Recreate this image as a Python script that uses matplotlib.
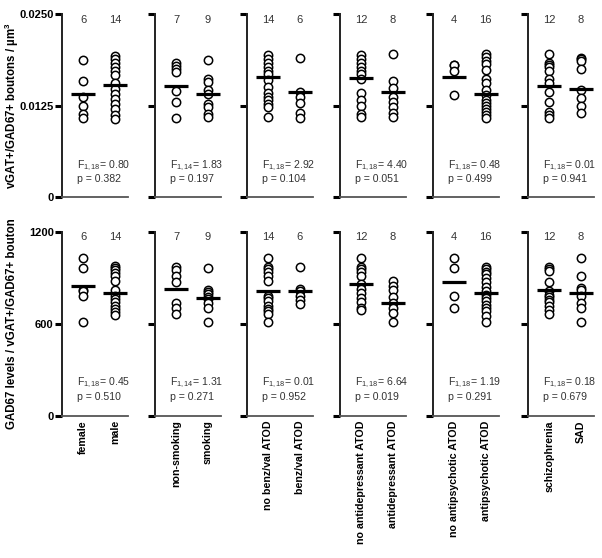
import matplotlib
matplotlib.use("Agg")  # Non-interactive backend
import matplotlib.pyplot as plt

plt.rcParams["font.family"] = ["Liberation Sans", "DejaVu Sans"]
plt.rcParams["mathtext.fontset"] = "custom"
plt.rcParams["mathtext.rm"] = "Liberation Sans"
plt.rcParams["mathtext.it"] = "Liberation Sans:italic"

# Group names per panel
categories = [
    ["female", "male"],
    ["non-smoking", "smoking"],
    ["no benz/val ATOD", "benz/val ATOD"],
    ["no antidepressant ATOD", "antidepressant ATOD"],
    ["no antipsychotic ATOD", "antipsychotic ATOD"],
    ["schizophrenia", "SAD"],
]
n_counts = [[6, 14], [7, 9], [14, 6], [12, 8], [4, 16], [12, 8]]

# Top row: vGAT+/GAD67+ bouton density (per um^3)
dens_female = [0.01872, 0.01585, 0.0137, 0.01243, 0.01134, 0.01083]
dens_male = [0.01926, 0.01881, 0.01826, 0.0178, 0.01725, 0.01667, 0.01561,
             0.01471, 0.01403, 0.01335, 0.01266, 0.01198, 0.0112, 0.01061]
dens_nonsmoking = [0.01835, 0.0179, 0.01744, 0.01712, 0.01448, 0.01302, 0.01083]
dens_smoking = [0.01872, 0.01612, 0.01567, 0.01462, 0.01403, 0.01266,
                0.01225, 0.01134, 0.01089]
dens_nobenz = [0.0194, 0.01881, 0.01826, 0.0178, 0.01725, 0.0168, 0.01598,
               0.01499, 0.01425, 0.0137, 0.01325, 0.0127, 0.01225, 0.01097]
dens_benz = [0.01895, 0.01439, 0.0137, 0.0128, 0.01143, 0.01075]
dens_noantidep = [0.0194, 0.01881, 0.01826, 0.0178, 0.01725, 0.0168, 0.01608,
                  0.01417, 0.01325, 0.01243, 0.0113, 0.01089]
dens_antidep = [0.01949, 0.01585, 0.01485, 0.0137, 0.01302, 0.01225,
                0.01152, 0.01089]
dens_noantipsy = [0.0181, 0.01803, 0.01725, 0.01393]
dens_antipsy = [0.01949, 0.01908, 0.01862, 0.01813, 0.01735, 0.01612,
                0.01561, 0.01462, 0.01393, 0.01325, 0.0128, 0.01243,
                0.01202, 0.01165, 0.0112, 0.01075]
dens_schizo = [0.01949, 0.01835, 0.01803, 0.0178, 0.01721, 0.01612, 0.01561,
               0.01439, 0.01302, 0.01165, 0.0112, 0.01075]
dens_sad = [0.01903, 0.01881, 0.01862, 0.01745, 0.01462, 0.01348, 0.01243,
            0.01143]
dens_means = [0.01403, 0.0153, 0.01516, 0.01407, 0.01644, 0.0143,
              0.01621, 0.0143, 0.01644, 0.01407, 0.0152, 0.01471]

# Bottom row: GAD67 levels per bouton
gad_female = [1029, 965, 824, 813, 785, 612]
gad_male = [979, 965, 949, 932, 910, 878, 824, 785, 763, 741, 720, 698,
            677, 659]
gad_nonsmoking = [971, 953, 910, 871, 737, 705, 668]
gad_smoking = [965, 824, 811, 798, 776, 763, 737, 705, 612]
gad_nobenz = [1029, 971, 958, 942, 915, 878, 785, 770, 748, 716, 699, 683,
              668, 612]
gad_benz = [971, 830, 813, 785, 759, 731]
gad_noantidep = [1029, 971, 958, 942, 910, 863, 828, 802, 770, 741, 705, 689]
gad_antidep = [878, 850, 824, 776, 737, 705, 673, 612]
gad_noantipsy = [1029, 965, 781, 705]
gad_antipsy = [975, 960, 942, 926, 900, 871, 841, 813, 791, 770, 748, 726,
               705, 683, 655, 612]
gad_schizo = [975, 960, 947, 871, 813, 791, 776, 759, 741, 716, 694, 668]
gad_sad = [1029, 910, 835, 824, 781, 737, 705, 612]
gad_means = [845, 802, 828, 770, 817, 817, 863, 737, 871, 802, 819, 802]

top_df = ["1,18", "1,14", "1,18", "1,18", "1,18", "1,18"]
top_F = ["0.80", "1.83", "2.92", "4.40", "0.48", "0.01"]
top_p = ["0.382", "0.197", "0.104", "0.051", "0.499", "0.941"]
bot_df = ["1,18", "1,14", "1,18", "1,18", "1,18", "1,18"]
bot_F = ["0.45", "1.31", "0.01", "6.64", "1.19", "0.18"]
bot_p = ["0.510", "0.271", "0.952", "0.019", "0.291", "0.679"]

top_ticks = [0, 0.0125, 0.025]
top_ticklabels = ["0", "0.0125", "0.0250"]
bot_ticks = [0, 600, 1200]
bot_ticklabels = ["0", "600", "1200"]

top_groups = [dens_female, dens_male, dens_nonsmoking, dens_smoking,
              dens_nobenz, dens_benz, dens_noantidep, dens_antidep,
              dens_noantipsy, dens_antipsy, dens_schizo, dens_sad]
bot_groups = [gad_female, gad_male, gad_nonsmoking, gad_smoking,
              gad_nobenz, gad_benz, gad_noantidep, gad_antidep,
              gad_noantipsy, gad_antipsy, gad_schizo, gad_sad]

W, H = 602, 558
fig = plt.figure(figsize=(W / 100, H / 100), dpi=100)

TEXT = "#333333"
PANEL_LEFT = [62, 155, 247, 340, 433, 528]  # pixel x of each left spine
rows = [
    dict(groups=top_groups, means=dens_means, df=top_df, F=top_F, p=top_p,
         ticks=top_ticks, ticklabels=top_ticklabels, ylim=(0, 0.025),
         top_px=14, bot_px=197, n_y=0.967, f_y=0.17, p_y=0.10),
    dict(groups=bot_groups, means=gad_means, df=bot_df, F=bot_F, p=bot_p,
         ticks=bot_ticks, ticklabels=bot_ticklabels, ylim=(0, 1200),
         top_px=232, bot_px=416, n_y=0.975, f_y=0.178, p_y=0.105),
]

for r, row in enumerate(rows):
    for i in range(6):
        left_px = PANEL_LEFT[i]
        ax = fig.add_axes([left_px / W, 1 - row["bot_px"] / H,
                           66 / W, (row["bot_px"] - row["top_px"]) / H])
        ax.set_xlim(0.333, 2.417)
        ax.set_ylim(*row["ylim"])
        for j in range(2):
            vals = row["groups"][2 * i + j]
            ax.plot([j + 1] * len(vals), vals, "o", ms=6, mfc="white",
                    mec="black", mew=1.1, clip_on=False, zorder=3)
            ax.hlines(row["means"][2 * i + j], j + 1 - 0.38, j + 1 + 0.38,
                      color="black", lw=2.3, zorder=4)
            ax.text(j + 1, row["n_y"], str(n_counts[i][j]),
                    transform=ax.get_xaxis_transform(), ha="center",
                    va="center", fontsize=8, color=TEXT)
        ax.text(0.22, row["f_y"],
                f"F$_{{\\mathregular{{{row['df'][i]}}}}}$= {row['F'][i]}",
                transform=ax.transAxes, ha="left", va="center",
                fontsize=7.6, color=TEXT)
        ax.text(0.22, row["p_y"], f"p = {row['p'][i]}",
                transform=ax.transAxes, ha="left", va="center",
                fontsize=7.6, color=TEXT)

        for side in ("top", "right"):
            ax.spines[side].set_visible(False)
        ax.spines["left"].set_color("#222222")
        ax.spines["left"].set_linewidth(1.4)
        ax.spines["bottom"].set_color("#555555")
        ax.spines["bottom"].set_linewidth(1.3)

        ax.set_yticks(row["ticks"])
        ax.tick_params(axis="y", direction="out", length=5, width=2.2,
                       color="black", pad=1)
        if i == 0:
            ax.set_yticklabels(row["ticklabels"], fontsize=8,
                               fontweight="bold")
        else:
            ax.set_yticklabels([])

        ax.set_xticks([1, 2])
        ax.tick_params(axis="x", length=0, pad=3)
        if r == 1:
            ax.set_xticklabels(categories[i], rotation=90, fontsize=7.7,
                               fontweight="bold", va="top", ha="center")
        else:
            ax.set_xticklabels([])

# Y axis labels
fig.text(12 / W, 1 - 105.5 / H, "vGAT+/GAD67+ boutons / µm$^\\mathregular{3}$",
         rotation=90, ha="center", va="center", fontsize=8.3,
         fontweight="bold")
fig.text(12 / W, 1 - 324 / H, "GAD67 levels / vGAT+/GAD67+ bouton",
         rotation=90, ha="center", va="center", fontsize=8.3,
         fontweight="bold")

fig.savefig("out.png", dpi=100, facecolor="white")
plt.close(fig)
